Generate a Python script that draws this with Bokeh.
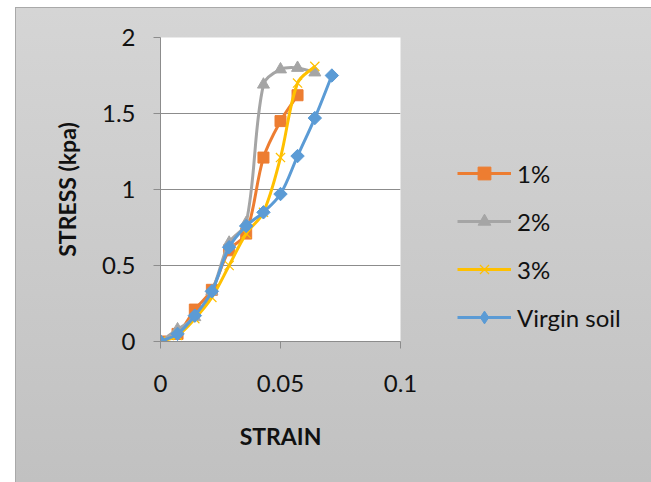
import numpy as np
from bokeh.plotting import figure
from bokeh.models import Range1d, FixedTicker, Legend, LegendItem
from bokeh.embed import file_html
from bokeh.resources import INLINE

# ---------------- data ----------------
strain = [0, 0.0071, 0.0143, 0.0214, 0.0286, 0.0357, 0.0429, 0.05, 0.0571, 0.0643, 0.0714]

stress_1 = [0, 0.05, 0.21, 0.34, 0.60, 0.71, 1.21, 1.45, 1.62]
stress_2 = [0, 0.08, 0.16, 0.33, 0.65, 0.78, 1.69, 1.79, 1.80, 1.77]
stress_3 = [0, 0.04, 0.15, 0.29, 0.50, 0.71, 0.85, 1.21, 1.70, 1.81]
stress_v = [0, 0.05, 0.17, 0.33, 0.62, 0.76, 0.85, 0.97, 1.22, 1.47, 1.75]

series_names = ["1%", "2%", "3%", "Virgin soil"]
x_ticks = [0, 0.05, 0.1]
x_tick_labels = ["0", "0.05", "0.1"]
y_ticks = [0, 0.5, 1, 1.5, 2]
y_tick_labels = ["0", "0.5", "1", "1.5", "2"]

# ---------------- styling ----------------
colors = ["#ED7D31", "#A5A5A5", "#FFC000", "#5B9BD5"]
FONT = "Lato"
FRAME_W, FRAME_H = 240, 304
X_END, Y_END = 0.1, 2

p = figure(frame_width=FRAME_W, frame_height=FRAME_H, output_backend="svg",
           toolbar_location=None,
           x_range=Range1d(0, X_END), y_range=Range1d(0, Y_END),
           min_border_left=144, min_border_right=241, min_border_top=29,
           min_border_bottom=141, margin=(8, 0, 0, 16))
p.styles = {"background": "linear-gradient(to bottom, #d5d5d5, #c1c1c1)",
            "outline": "1.5px solid #a9a9a9"}
p.border_fill_color = None
p.background_fill_color = "white"
p.outline_line_color = None

GRID = "#8c8c8c"
p.xgrid.visible = False
p.ygrid.grid_line_color = GRID
p.ygrid.ticker = FixedTicker(ticks=y_ticks)

for ax, ticks, labels in ((p.xaxis[0], x_ticks, x_tick_labels), (p.yaxis[0], y_ticks, y_tick_labels)):
    ax.ticker = FixedTicker(ticks=ticks)
    ax.major_label_overrides = {t: l for t, l in zip(ticks, labels)}
    ax.axis_line_color = GRID
    ax.major_tick_line_color = GRID
    ax.major_tick_in = 0
    ax.major_tick_out = 7
    ax.minor_tick_line_color = None
    ax.major_label_text_font = FONT
    ax.major_label_text_font_size = "24px"
    ax.major_label_text_color = "#111111"
    ax.axis_label_text_font = FONT
    ax.axis_label_text_font_style = "bold"
    ax.axis_label_text_font_size = "23px"
    ax.axis_label_text_color = "#111111"

p.xaxis.axis_label = "STRAIN"
p.yaxis.axis_label = "STRESS (kpa)"
p.xaxis.major_label_standoff = 26
p.xaxis.axis_label_standoff = 27
p.yaxis.major_label_standoff = 18
p.yaxis.major_label_orientation = "horizontal"
p.yaxis.axis_label_standoff = 18


def smooth_segments(xs, ys, s=1/3):
    """Excel-like smoothed bezier segments through the data points."""
    x = np.asarray(xs, float)
    y = np.asarray(ys, float)
    kx, ky = FRAME_W / X_END, FRAME_H / Y_END  # pixel scale for distances
    xp = np.concatenate([[x[0]], x, [x[-1]]])
    yp = np.concatenate([[y[0]], y, [y[-1]]])
    x0, y0, x1, y1, cx0, cy0, cx1, cy1 = ([] for _ in range(8))
    n = len(x)
    def d(i, j):
        return np.hypot((xp[i] - xp[j]) * kx, (yp[i] - yp[j]) * ky)
    for k in range(n - 1):
        i = k + 1
        a, b = d(i - 1, i), d(i, i + 1)
        f1 = s * b / (a + b) if (a + b) > 0 else 0
        c0x = xp[i] + (xp[i + 1] - xp[i - 1]) * f1
        c0y = yp[i] + (yp[i + 1] - yp[i - 1]) * f1
        j = i + 1
        a2, b2 = d(j - 1, j), d(j, j + 1)
        f2 = s * a2 / (a2 + b2) if (a2 + b2) > 0 else 0
        c1x = xp[j] - (xp[j + 1] - xp[j - 1]) * f2
        c1y = yp[j] - (yp[j + 1] - yp[j - 1]) * f2
        x0.append(xp[i]); y0.append(yp[i]); x1.append(xp[j]); y1.append(yp[j])
        cx0.append(c0x); cy0.append(c0y); cx1.append(c1x); cy1.append(c1y)
    return dict(x0=x0, y0=y0, x1=x1, y1=y1, cx0=cx0, cy0=cy0, cx1=cx1, cy1=cy1)


all_stress = [stress_1, stress_2, stress_3, stress_v]
items = []
for idx, (name, ys, col) in enumerate(zip(series_names, all_stress, colors)):
    xs = strain[:len(ys)]
    seg = smooth_segments(xs, ys)
    rl = p.bezier(x0="x0", y0="y0", x1="x1", y1="y1", cx0="cx0", cy0="cy0",
                  cx1="cx1", cy1="cy1", source=seg, line_color=col, line_width=3)
    if idx == 0:
        rm = p.scatter(xs, ys, marker="square", size=11, fill_color=col, line_color=col)
        leg = [rl, rm]
    elif idx == 1:
        rm = p.scatter(xs, ys, marker="triangle", size=12, fill_color=col, line_color=col)
        leg = [rl, rm]
    elif idx == 2:
        rm = p.scatter(xs, ys, marker="x", size=13, line_color=col, line_width=1.2)
        leg = [rl, rm]
    else:
        # diamond (used by the legend), covered by the rotated squares on the plot
        rd = p.scatter(xs, ys, marker="diamond", size=12, fill_color=col, line_color=col)
        rm = p.scatter(xs, ys, marker="square", size=9.5, angle=np.pi / 4,
                       fill_color=col, line_color=col)
        leg = [rl, rd]
    items.append(LegendItem(label=name, renderers=leg))

legend = Legend(items=items, location=(57, 8), orientation="vertical",
                glyph_width=54, glyph_height=32, spacing=16, padding=0, margin=0,
                label_standoff=6, label_text_font=FONT, label_text_font_size="24px",
                label_text_color="#111111", label_height=20,
                background_fill_alpha=0, border_line_alpha=0)
p.add_layout(legend, "right")

open("out.html", "w").write(file_html(p, INLINE))
